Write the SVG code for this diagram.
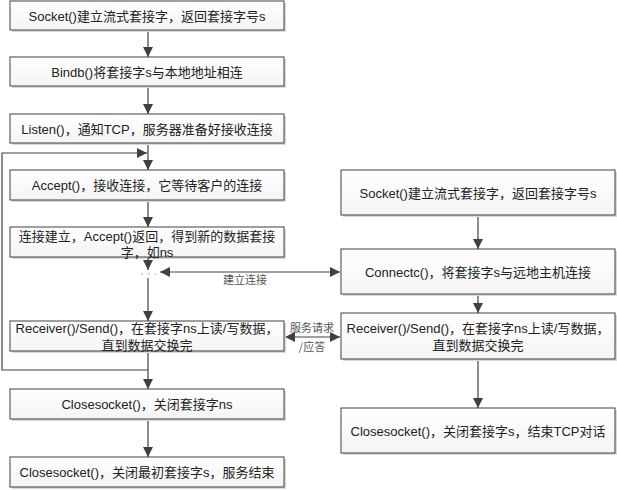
<svg xmlns="http://www.w3.org/2000/svg" width="617" height="490" viewBox="0 0 617 490">
<defs>
<linearGradient id="g" x1="0" y1="0" x2="0" y2="1">
<stop offset="0" stop-color="#ffffff"/>
<stop offset="1" stop-color="#f4f4f4"/>
</linearGradient>
<marker id="ah" viewBox="0 0 10 10" refX="10" refY="5" markerWidth="10" markerHeight="10" markerUnits="userSpaceOnUse" orient="auto-start-reverse">
<path d="M0,0 L10,5 L0,10 z" fill="#404040"/>
</marker>
</defs>
<style>
.box{fill:url(#g);stroke:#404040;stroke-width:1}
.sh{fill:#d9d9d9}
.t{font-family:"Liberation Sans","Noto Sans CJK SC",sans-serif;font-size:13px;fill:#222;text-anchor:middle;dominant-baseline:central}
.lbl{font-family:"Noto Sans CJK SC",sans-serif;font-size:11px;fill:#555;text-anchor:middle;dominant-baseline:central}
.ln{fill:none;stroke:#404040;stroke-width:1.2}
</style>
<rect width="617" height="490" fill="#ffffff"/>
<g id="connectors">
<line class="ln" x1="148" y1="30" x2="148" y2="57" marker-end="url(#ah)"/>
<line class="ln" x1="148" y1="87" x2="148" y2="114" marker-end="url(#ah)"/>
<line class="ln" x1="148" y1="143" x2="148" y2="170" marker-end="url(#ah)"/>
<line class="ln" x1="148" y1="200" x2="148" y2="227" marker-end="url(#ah)"/>
<line class="ln" x1="148" y1="257" x2="148" y2="270" marker-end="url(#ah)"/>
<line x1="141" y1="274" x2="156" y2="274" stroke="#888" stroke-width="1" stroke-dasharray="1.5,5.5"/>
<line class="ln" x1="148" y1="278" x2="148" y2="321" marker-end="url(#ah)"/>
<line class="ln" x1="148" y1="351" x2="148" y2="389" marker-end="url(#ah)"/>
<polyline class="ln" points="148,370 2,370 2,153 147,153" marker-end="url(#ah)"/>
<line class="ln" x1="148" y1="419" x2="148" y2="457" marker-end="url(#ah)"/>
<line class="ln" x1="160" y1="272" x2="340" y2="272" marker-start="url(#ah)" marker-end="url(#ah)"/>
<line class="ln" x1="285" y1="337" x2="340" y2="337" marker-start="url(#ah)" marker-end="url(#ah)"/>
<line class="ln" x1="478" y1="215" x2="478" y2="249" marker-end="url(#ah)"/>
<line class="ln" x1="478" y1="294" x2="478" y2="313" marker-end="url(#ah)"/>
<line class="ln" x1="478" y1="359" x2="478" y2="408" marker-end="url(#ah)"/>
<text class="lbl" x="245" y="279">建立连接</text>
<text class="lbl" x="312" y="327">服务请求</text>
<text class="lbl" x="312" y="346">/应答</text>
</g>
<g id="n1"><rect class="sh" x="12" y="3" width="274" height="29"/><rect class="box" x="10" y="1" width="274" height="29"/><text class="t" x="147" y="16">Socket()建立流式套接字，返回套接字号s</text></g>
<g id="n2"><rect class="sh" x="12" y="59" width="274" height="29"/><rect class="box" x="10" y="57" width="274" height="29"/><text class="t" x="147" y="72">Bindb()将套接字s与本地地址相连</text></g>
<g id="n3"><rect class="sh" x="12" y="116" width="274" height="29"/><rect class="box" x="10" y="114" width="274" height="29"/><text class="t" x="147" y="129">Listen()，通知TCP，服务器准备好接收连接</text></g>
<g id="n4"><rect class="sh" x="12" y="172" width="274" height="30"/><rect class="box" x="10" y="170" width="274" height="30"/><text class="t" x="147" y="185">Accept()，接收连接，它等待客户的连接</text></g>
<g id="n5"><rect class="sh" x="12" y="229" width="274" height="30"/><rect class="box" x="10" y="227" width="274" height="30"/><text class="t" x="147" y="236">连接建立，Accept()返回，得到新的数据套接</text><text class="t" x="147" y="252">字，如ns</text></g>
<g id="n6"><rect class="sh" x="12" y="323" width="274" height="30"/><rect class="box" x="10" y="321" width="274" height="30"/><text class="t" x="147" y="328">Receiver()/Send()，在套接字ns上读/写数据，</text><text class="t" x="147" y="345">直到数据交换完</text></g>
<g id="n7"><rect class="sh" x="12" y="391" width="274" height="30"/><rect class="box" x="10" y="389" width="274" height="30"/><text class="t" x="147" y="404">Closesocket()，关闭套接字ns</text></g>
<g id="n8"><rect class="sh" x="12" y="459" width="274" height="30"/><rect class="box" x="10" y="457" width="274" height="30"/><text class="t" x="147" y="472">Closesocket()，关闭最初套接字s，服务结束</text></g>
<g id="r1"><rect class="sh" x="343" y="172" width="274" height="45"/><rect class="box" x="341" y="170" width="274" height="45"/><text class="t" x="478" y="193">Socket()建立流式套接字，返回套接字号s</text></g>
<g id="r2"><rect class="sh" x="343" y="251" width="274" height="45"/><rect class="box" x="341" y="249" width="274" height="45"/><text class="t" x="478" y="272">Connectc()，将套接字s与远地主机连接</text></g>
<g id="r3"><rect class="sh" x="343" y="315" width="274" height="46"/><rect class="box" x="341" y="313" width="274" height="46"/><text class="t" x="478" y="328">Receiver()/Send()，在套接字ns上读/写数据，</text><text class="t" x="478" y="345">直到数据交换完</text></g>
<g id="r4"><rect class="sh" x="343" y="410" width="274" height="45"/><rect class="box" x="341" y="408" width="274" height="45"/><text class="t" x="478" y="431">Closesocket()，关闭套接字s，结束TCP对话</text></g>
</svg>
